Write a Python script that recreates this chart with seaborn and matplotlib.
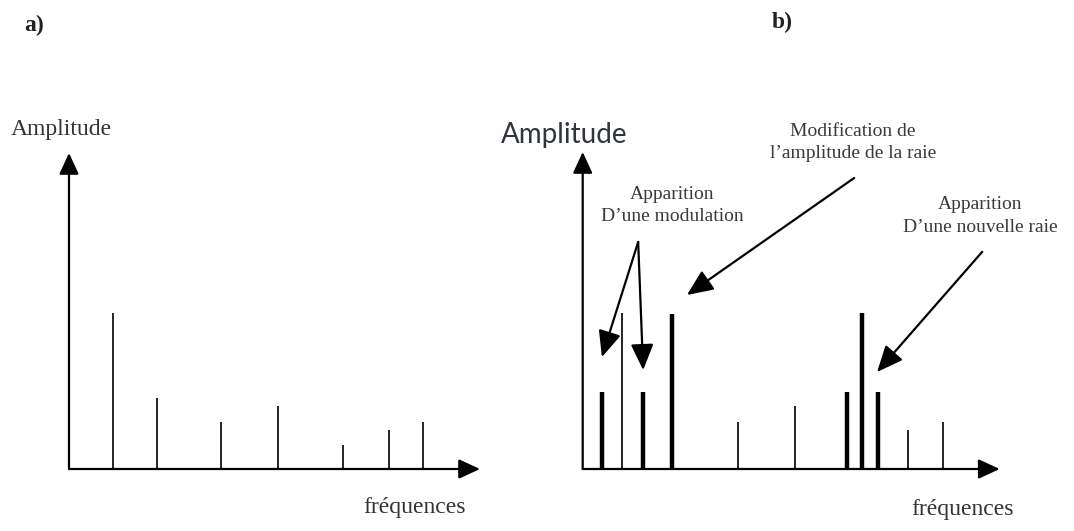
import pandas as pd
import matplotlib.pyplot as plt
import seaborn as sns

# spectrum a) : healthy machine (frequency, amplitude in arbitrary units)
freq_a = [10.6, 21.3, 37.0, 50.8, 66.7, 77.9, 86.1]
amp_a = [49.4, 22.5, 14.9, 19.9, 7.6, 12.3, 14.9]
kind_a = ['fine'] * 7

# spectrum b) : with defects (thick lines = changes)
freq_b = [4.6, 9.4, 14.5, 21.4, 37.2, 50.9, 63.4, 67.0, 70.8, 78.0, 86.4]
amp_b = [24.3, 49.2, 24.3, 48.9, 14.8, 19.9, 24.3, 49.2, 24.3, 12.3, 14.8]
kind_b = ['epaisse', 'fine', 'epaisse', 'epaisse', 'fine', 'fine',
          'epaisse', 'epaisse', 'epaisse', 'fine', 'fine']

labels = ['a)', 'b)']
y_label = 'Amplitude'
x_label = 'fréquences'


def to_long(freqs, amps, kinds):
    # each spectral line = two points (f, 0) -> (f, amp)
    rows = []
    for i, (f, a, k) in enumerate(zip(freqs, amps, kinds)):
        rows.append({'raie': i, 'f': f, 'amp': 0.0, 'type': k})
        rows.append({'raie': i, 'f': f, 'amp': a, 'type': k})
    return pd.DataFrame(rows)


sns.set_theme(style='white')
plt.rcParams['font.family'] = ['Liberation Serif', 'DejaVu Serif']

fig = plt.figure(figsize=(10.74, 5.31), dpi=100)
W, H = 1074, 531
ax_a = fig.add_axes([69 / W, 1 - 469 / H, 411 / W, 316 / H])
ax_b = fig.add_axes([582.7 / W, 1 - 469 / H, 417 / W, 317 / H])

sizes = {'fine': 1.2, 'epaisse': 3.2}
for ax, (fr, am, kd) in zip([ax_a, ax_b], [(freq_a, amp_a, kind_a), (freq_b, amp_b, kind_b)]):
    df = to_long(fr, am, kd)
    sns.lineplot(data=df, x='f', y='amp', units='raie', estimator=None, sort=False,
                 size='type', sizes=sizes, color='black', legend=False, ax=ax,
                 solid_capstyle='butt')
    ax.set_xlim(0, 100)
    ax.set_ylim(0, 100)
    ax.set_xlabel('')
    ax.set_ylabel('')
    ax.set_xticks([])
    ax.set_yticks([])
    sns.despine(ax=ax, left=True, bottom=True)
    # axes drawn as arrows
    head = dict(arrowstyle='-|>,head_length=0.65,head_width=0.3', mutation_scale=20,
                color='black', lw=1.6, shrinkA=0, shrinkB=0)
    ax.annotate('', xy=(0, 1), xytext=(0, 0), xycoords='axes fraction', arrowprops=head)
    ax.annotate('', xy=(1, 0), xytext=(0, 0), xycoords='axes fraction', arrowprops=head)

# annotations on b)
arrow = dict(arrowstyle='-|>,head_length=0.8,head_width=0.35', mutation_scale=20,
             color='black', lw=1.6, shrinkA=0, shrinkB=0)
txt = dict(ha='center', va='center', fontsize=14, color='#3a3a3a', linespacing=1.4)

ax_b.text(64.8, 103.0, 'Modification de\nl’amplitude de la raie', **txt)
ax_b.annotate('', xy=(25.0, 54.9), xytext=(65.1, 91.8), arrowprops=arrow)

ax_b.text(21.4, 83.0, 'Apparition\nD’une modulation', **txt)
ax_b.annotate('', xy=(4.6, 35.3), xytext=(13.3, 71.6), arrowprops=arrow)
ax_b.annotate('', xy=(14.5, 31.2), xytext=(13.3, 71.6), arrowprops=arrow)

ax_b.text(95.3, 79.8, 'Apparition\nD’une nouvelle raie', **txt)
ax_b.annotate('', xy=(70.6, 30.6), xytext=(95.8, 68.5), arrowprops=arrow)

# axis labels and panel letters
fig.text(61 / W, 1 - 130 / H, y_label, ha='center', va='center', fontsize=17, color='#333333')
fig.text(414 / W, 1 - 508 / H, x_label, ha='center', va='center', fontsize=17, color='#333333')
fig.text(564 / W, 1 - 135 / H, y_label, ha='center', va='center', fontsize=20,
         color='#2f3440', family=['Lato', 'DejaVu Sans'])
fig.text(963 / W, 1 - 510 / H, x_label, ha='center', va='center', fontsize=17, color='#333333')
fig.text(34 / W, 1 - 25 / H, labels[0], ha='center', va='center', fontsize=17,
         fontweight='bold', color='#222222')
fig.text(782 / W, 1 - 22 / H, labels[1], ha='center', va='center', fontsize=17,
         fontweight='bold', color='#222222')

fig.savefig('out.png', dpi=100)
